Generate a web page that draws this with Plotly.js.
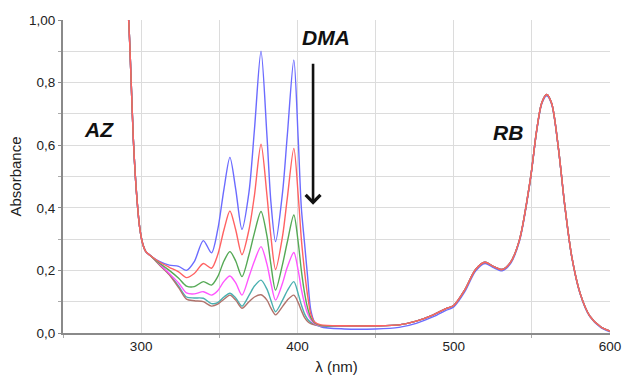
<!DOCTYPE html>
<html>
<head>
<meta charset="utf-8">
<script src="https://cdn.plot.ly/plotly-3.0.1.min.js"></script>
<style>html,body{margin:0;padding:0;background:#fff;}#chart{width:622px;height:376px;}</style>
</head>
<body>
<div id="chart"></div>
<script>
// Wavelength grid (nm)
const wavelength = [290, 292, 293.5, 295, 297, 299, 301, 303, 306, 312, 318, 324, 329, 334, 339.8, 345, 349, 353, 356.8, 360.5, 364.5, 369, 372.5, 376.7, 380.5, 383, 386, 390.5, 393.5, 397.7, 400.5, 402.5, 404.5, 406.5, 408.5, 411, 415, 430, 450, 465, 476, 487, 495, 500, 507, 514, 520, 525, 531, 536, 542, 549, 553, 556.3, 559.5, 562.7, 567, 571, 575.5, 581, 587, 594, 600];

// Shared steep edge (290-306 nm)
const edgeShared = [1.12, 1.0, 0.82, 0.62, 0.45, 0.34, 0.285, 0.26, 0.247];

// AZ region (312-415 nm), one array per spectrum
const azBlue    = [0.228, 0.217, 0.213, 0.200, 0.228, 0.295, 0.256, 0.33, 0.46, 0.561, 0.46, 0.331, 0.45, 0.65, 0.90, 0.63, 0.42, 0.292, 0.45, 0.63, 0.872, 0.62, 0.40, 0.29, 0.18, 0.075, 0.035, 0.02];
const azRed     = [0.226, 0.21, 0.195, 0.177, 0.19, 0.222, 0.207, 0.25, 0.33, 0.39, 0.33, 0.25, 0.33, 0.44, 0.603, 0.44, 0.31, 0.203, 0.31, 0.43, 0.59, 0.44, 0.30, 0.20, 0.12, 0.062, 0.035, 0.026];
const azGreen   = [0.222, 0.200, 0.175, 0.150, 0.148, 0.164, 0.153, 0.18, 0.23, 0.26, 0.23, 0.180, 0.25, 0.32, 0.388, 0.31, 0.22, 0.137, 0.22, 0.29, 0.377, 0.29, 0.20, 0.13, 0.08, 0.05, 0.032, 0.024];
const azMagenta = [0.22, 0.19, 0.16, 0.128, 0.125, 0.132, 0.121, 0.135, 0.165, 0.182, 0.16, 0.121, 0.18, 0.23, 0.276, 0.22, 0.16, 0.105, 0.16, 0.21, 0.257, 0.20, 0.14, 0.095, 0.062, 0.043, 0.03, 0.022];
const azTeal    = [0.218, 0.188, 0.15, 0.115, 0.112, 0.111, 0.094, 0.097, 0.115, 0.127, 0.112, 0.086, 0.12, 0.15, 0.169, 0.14, 0.105, 0.068, 0.105, 0.135, 0.164, 0.125, 0.09, 0.062, 0.044, 0.034, 0.027, 0.021];
const azBrown   = [0.216, 0.186, 0.145, 0.108, 0.103, 0.100, 0.086, 0.092, 0.108, 0.121, 0.105, 0.079, 0.10, 0.115, 0.122, 0.105, 0.08, 0.058, 0.085, 0.105, 0.121, 0.097, 0.072, 0.05, 0.037, 0.03, 0.026, 0.023];

// RB region (430-600 nm)
const rbShared = [0.023, 0.023, 0.026, 0.038, 0.058, 0.078, 0.088, 0.137, 0.203, 0.226, 0.214, 0.203, 0.223, 0.296, 0.49, 0.645, 0.735, 0.762, 0.733, 0.59, 0.41, 0.245, 0.125, 0.055, 0.02, 0.006];
const rbBlue   = [0.013, 0.013, 0.018, 0.031, 0.052, 0.072, 0.083, 0.131, 0.198, 0.222, 0.210, 0.199, 0.219, 0.292, 0.487, 0.642, 0.732, 0.758, 0.73, 0.588, 0.408, 0.243, 0.123, 0.053, 0.018, 0.004];

const seriesNames  = ['0', '1', '2', '3', '4', '5'];
const seriesColors = ['#6b6bff', '#4ab0b0', '#b0736c', '#ff55ff', '#55a955', '#ff6262'];
const seriesAZ     = [azBlue, azTeal, azBrown, azMagenta, azGreen, azRed];
const seriesRB     = [rbBlue, rbShared, rbShared, rbShared, rbShared, rbShared];

const traces = seriesAZ.map((az, i) => ({
  x: wavelength,
  y: edgeShared.concat(az, seriesRB[i]),
  type: 'scatter',
  mode: 'lines',
  name: seriesNames[i],
  line: {color: seriesColors[i], width: 1.4, shape: 'spline', smoothing: 0.8},
  hoverinfo: 'skip'
}));

const yTicks = [0, 0.2, 0.4, 0.6, 0.8, 1.0];
const yTickText = ['0,0', '0,2', '0,4', '0,6', '0,8', '1,00'];
const xTicks = [300, 400, 500, 600];

const annFont = {family: 'Liberation Sans, Arial, sans-serif', size: 21, color: '#111'};

const layout = {
  width: 622, height: 376,
  margin: {l: 63, r: 12, t: 20, b: 43},
  paper_bgcolor: '#fff', plot_bgcolor: '#fff',
  showlegend: false,
  font: {family: 'Liberation Sans, Arial, sans-serif', size: 13, color: '#222'},
  xaxis: {
    range: [250, 600], tickvals: xTicks, ticktext: xTicks.map(String),
    showgrid: true, gridcolor: '#dcdcdc', gridwidth: 1,
    minor: {tickvals: [250, 350, 450, 550], showgrid: true, gridcolor: '#dcdcdc', ticks: 'outside', ticklen: 3, tickcolor: '#aaa'},
    showline: true, linecolor: '#8a8a8a', linewidth: 2,
    ticks: '', zeroline: false,
    tickfont: {size: 13.5, color: '#222'},
    title: {text: 'λ (nm)', font: {size: 15, color: '#222'}, standoff: 8}
  },
  yaxis: {
    range: [0, 1.0], tickvals: yTicks, ticktext: yTickText,
    showgrid: true, gridcolor: '#dcdcdc', gridwidth: 1,
    minor: {tickvals: [0.1, 0.3, 0.5, 0.7, 0.9], showgrid: true, gridcolor: '#dcdcdc', ticks: 'outside', ticklen: 3, tickcolor: '#aaa'},
    showline: true, linecolor: '#8a8a8a', linewidth: 2,
    ticks: 'outside', ticklen: 3, tickcolor: '#8a8a8a', zeroline: false,
    tickfont: {size: 13.5, color: '#222'},
    title: {text: 'Absorbance', font: {size: 15, color: '#222'}, standoff: 4}
  },
  annotations: [
    {x: 273, y: 0.65, xref: 'x', yref: 'y', text: '<b><i>AZ</i></b>', showarrow: false, font: annFont},
    {x: 418, y: 0.945, xref: 'x', yref: 'y', text: '<b><i>DMA</i></b>', showarrow: false, font: annFont},
    {x: 535, y: 0.64, xref: 'x', yref: 'y', text: '<b><i>RB</i></b>', showarrow: false, font: annFont},
    {x: 410, y: 0.41, ax: 410, ay: 0.865, xref: 'x', yref: 'y', axref: 'x', ayref: 'y',
     text: '', showarrow: true, arrowhead: 4, arrowsize: 1.1, arrowwidth: 2.6, arrowcolor: '#111'}
  ]
};

Plotly.newPlot('chart', traces, layout, {displayModeBar: false, staticPlot: true});
</script>
</body>
</html>
